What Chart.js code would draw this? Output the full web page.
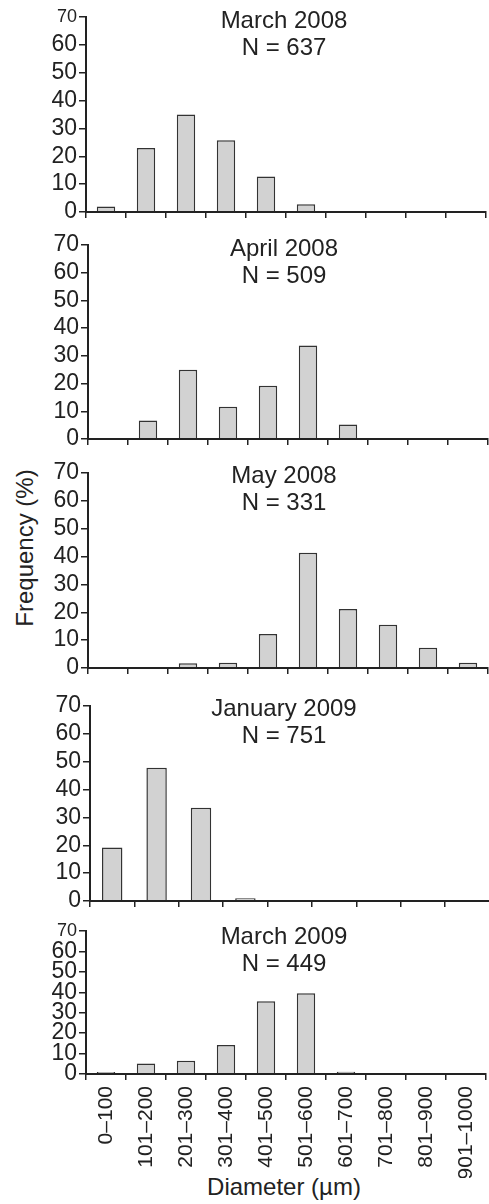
<!DOCTYPE html>
<html>
<head>
<meta charset="utf-8">
<title>Diameter frequency</title>
<script src="https://cdn.jsdelivr.net/npm/chart.js@4.4.0/dist/chart.umd.min.js"></script>
<style>
  html, body { margin: 0; padding: 0; background: #fff; }
  #page {
    position: relative; width: 489px; height: 1204px; overflow: hidden;
    font-family: "Liberation Sans", Arial, Helvetica, sans-serif; color: #222;
  }
  #page canvas { position: absolute; left: 0; }
  .title {
    position: absolute; left: 184px; width: 200px; text-align: center;
    font-size: 24px; line-height: 26.5px; white-space: nowrap;
  }
  #ylabel {
    position: absolute; left: -75px; top: 535px; width: 200px; text-align: center;
    font-size: 24px; line-height: 26px; transform: rotate(-90deg); white-space: nowrap;
  }
  #xlabel {
    position: absolute; left: 184px; top: 1174px; width: 200px; text-align: center;
    font-size: 24px; line-height: 26px; white-space: nowrap;
  }
</style>
</head>
<body>
<div id="page">
  <div id="ylabel">Frequency (%)</div>
  <div id="xlabel">Diameter (µm)</div>
</div>
<script>
let sizeClasses = ["0–100", "101–200", "201–300", "301–400", "401–500",
                   "501–600", "601–700", "701–800", "801–900", "901–1000"];
let yTicks = [0, 10, 20, 30, 40, 50, 60, 70];

let samplingDates = ["March 2008", "April 2008", "May 2008", "January 2009", "March 2009"];
let sampleSizes = [637, 509, 331, 751, 449];

let march2008   = [2.0, 23.0, 35.0, 25.8, 12.7, 2.8, 0, 0, 0, 0];
let april2008   = [0.4, 6.7, 25.0, 11.6, 19.2, 33.7, 5.2, 0, 0, 0];
let may2008     = [0, 0, 1.7, 1.9, 12.2, 41.4, 21.2, 15.5, 7.3, 1.9];
let january2009 = [19.2, 47.8, 33.5, 1.0, 0, 0, 0, 0, 0, 0];
let march2009   = [1.0, 5.2, 6.5, 14.2, 35.6, 39.5, 1.1, 0, 0, 0];

let frequencies = [march2008, april2008, may2008, january2009, march2009];

// where each panel's plot area sits on the page (px)
let panelBoxes = [
  { left: 86, right: 486, top: 17,  bottom: 212,  width: 489, titleTop: 7,   smallTop: true },
  { left: 88, right: 488, top: 245, bottom: 439,  width: 489, titleTop: 235, smallTop: false },
  { left: 88, right: 488, top: 473, bottom: 668,  width: 489, titleTop: 462, smallTop: false },
  { left: 90, right: 534, top: 706, bottom: 901,  width: 540, titleTop: 695, smallTop: false },
  { left: 86, right: 486, top: 931, bottom: 1074, width: 489, titleTop: 923, smallTop: true }
];

let fontFamily = '"Liberation Sans", Arial, Helvetica, sans-serif';
let ink = "#222";
let page = document.querySelector("#page");

for (let i = 0; i < panelBoxes.length; i++) {
  makePanel(i);
}

function makePanel(i) {
  let box = panelBoxes[i];
  let last = i === panelBoxes.length - 1;
  let axisH = last ? 104 : 8;
  let padTop = 14;
  let padBottom = last ? 0 : 8;
  let h = padTop + (box.bottom - box.top) + axisH + padBottom;

  let canvas = document.createElement("canvas");
  canvas.width = box.width;
  canvas.height = h;
  canvas.style.width = box.width + "px";
  canvas.style.height = h + "px";
  canvas.style.top = (box.top - padTop) + "px";
  page.appendChild(canvas);

  let title = document.createElement("div");
  title.className = "title";
  title.style.top = box.titleTop + "px";
  title.innerHTML = samplingDates[i] + "<br>N = " + sampleSizes[i];
  page.appendChild(title);

  new Chart(canvas, {
    type: "bar",
    data: {
      labels: sizeClasses,
      datasets: [{
        data: frequencies[i],
        backgroundColor: "#d2d2d2",
        borderColor: "#333",
        borderWidth: 1.5,
        barPercentage: 0.46,
        categoryPercentage: 1
      }]
    },
    options: {
      responsive: false,
      animation: false,
      layout: { padding: { top: padTop, left: 0, right: box.width - box.right, bottom: padBottom } },
      plugins: { legend: { display: false }, tooltip: { enabled: false } },
      scales: {
        x: {
          grid: { offset: true, drawOnChartArea: false, color: ink, lineWidth: 1.5, tickLength: 6 },
          border: { color: ink, width: 2, z: 1 },
          ticks: {
            display: last, minRotation: 90, maxRotation: 90, autoSkip: false,
            padding: 6, color: ink, font: { family: fontFamily, size: 21 }
          },
          afterFit: function (s) { s.height = axisH; s.paddingLeft = 0; s.paddingRight = 0; }
        },
        y: {
          min: 0,
          max: 70,
          grid: { drawOnChartArea: false, color: ink, lineWidth: 1.5, tickLength: 7 },
          border: { color: ink, width: 2, z: 1 },
          ticks: {
            autoSkip: false, padding: 2, color: ink,
            font: function (ctx) {
              let small = box.smallTop && ctx.tick && ctx.tick.value === 70;
              return { family: fontFamily, size: small ? 18 : 23 };
            }
          },
          afterBuildTicks: function (s) { s.ticks = yTicks.map(v => ({ value: v })); },
          afterFit: function (s) { s.width = box.left; s.paddingTop = 0; s.paddingBottom = 0; }
        }
      }
    }
  });
}
</script>
</body>
</html>
